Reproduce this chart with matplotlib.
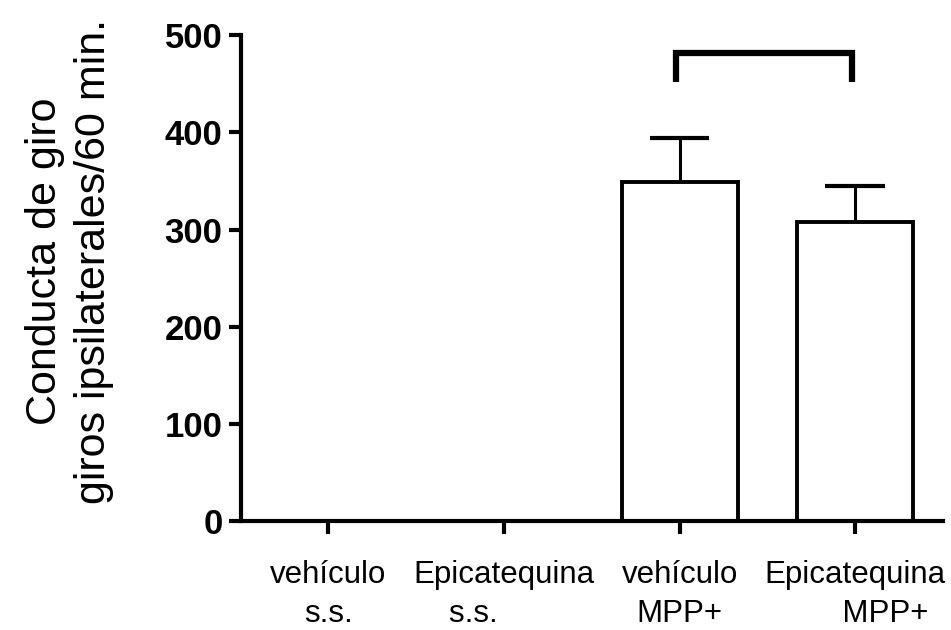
import numpy as np
import matplotlib
matplotlib.use('Agg')
import matplotlib.pyplot as plt

plt.rcParams['font.family'] = ['Liberation Sans', 'DejaVu Sans']

# data
grupos = ['vehículo\ns.s.', 'Epicatequina\ns.s.       ', 'vehículo\nMPP+', 'Epicatequina\n       MPP+']
giros = [0, 0, 349, 308]
error = [0, 0, 45, 37]
ylabel = 'Conducta de giro\ngiros ipsilaterales/60 min.'

fig = plt.figure(figsize=(9.51, 6.3), dpi=100)
ax = fig.add_axes([0.253, 0.173, 0.7386, 0.771])

x = np.arange(len(grupos))
ax.bar(x, giros, width=0.66, color='white', edgecolor='black', linewidth=2.8, zorder=2)

# only the upper error bar (stem + cap)
tops = np.array(giros) + np.array(error)
ax.vlines(x[2:], giros[2:], tops[2:], color='black', linewidth=2.2, zorder=1)
ax.hlines(tops[2:], x[2:] - 0.17, x[2:] + 0.17, color='black', linewidth=3, zorder=1)

# bracket between the MPP+ groups
ax.plot([2 - 0.02, 2 - 0.02, 3 - 0.017, 3 - 0.017], [452, 482, 482, 452],
        color='black', linewidth=4.5, solid_capstyle='butt', solid_joinstyle='miter')

ax.set_xlim(-0.5, 3.5)
ax.set_ylim(0, 500)
ax.set_yticks([0, 100, 200, 300, 400, 500])
ax.set_xticks(x)
ax.set_xticklabels(grupos, fontsize=22.5, linespacing=1.4)
for lbl in ax.get_yticklabels():
    lbl.set_fontsize(25)
    lbl.set_fontweight('bold')

for s in ['top', 'right']:
    ax.spines[s].set_visible(False)
for s in ['left', 'bottom']:
    ax.spines[s].set_linewidth(3)
ax.tick_params(axis='both', width=3, length=9)
ax.tick_params(axis='y', pad=4)
ax.tick_params(axis='x', pad=19)

fig.text(0.073, 0.585, ylabel, rotation=90, fontsize=31, ha='center', va='center',
         multialignment='center', linespacing=1.3)

fig.savefig('out.png', dpi=100)
